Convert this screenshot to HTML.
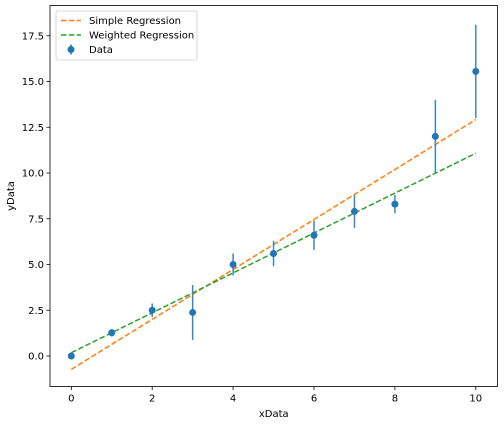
<!DOCTYPE html>
<html><head><meta charset="utf-8"><style>
body{margin:0;background:#fff}
svg{display:block;font-family:"DejaVu Sans","Liberation Sans",sans-serif}
</style></head><body>
<svg id="chart" width="504" height="425"></svg>
<script>
const xData=[0,1,2,3,4,5,6,7,8,9,10];
const yData=[0,1.27,2.5,2.38,5.0,5.6,6.6,7.9,8.3,12.0,15.55];
const yErr=[0.1,0.2,0.37,1.5,0.6,0.7,0.8,0.9,0.5,2.0,2.55];
const simpleFit=[-0.73,1.365];
const weightedFit=[0.18,1.09];
const xTicks=[0,2,4,6,8,10];
const yTicks=[0,2.5,5,7.5,10,12.5,15,17.5];
const L=50,R=497.5,T=5.5,B=386.5;
const X0=71.3,XS=40.45,Y0=356,YS=18.3;
const sx=v=>X0+v*XS, sy=v=>Y0-v*YS;
const svg=document.getElementById('chart');
const NS='http://www.w3.org/2000/svg';
function mk(tag,attrs,parent){const e=document.createElementNS(NS,tag);for(const k in attrs)e.setAttribute(k,attrs[k]);(parent||svg).appendChild(e);return e;}
const frame=mk('rect',{x:L,y:T,width:R-L,height:B-T,fill:'none',stroke:'#000','stroke-width':0.8});


xTicks.forEach(t=>{
  const g=mk('g',{});
  
  
  mk('line',{x1:sx(t),x2:sx(t),y1:B,y2:B+3.5,stroke:'#000','stroke-width':0.8},g);
  const tx=mk('text',{x:sx(t),y:B+15,'text-anchor':'middle','font-size':10,fill:'#000'},g);tx.textContent=t;
});
yTicks.forEach(t=>{
  const g=mk('g',{});
  
  
  mk('line',{x1:L-3.5,x2:L,y1:sy(t),y2:sy(t),stroke:'#000','stroke-width':0.8},g);
  const tx=mk('text',{x:L-6,y:sy(t)+3.5,'text-anchor':'end','font-size':10,fill:'#000'},g);tx.textContent=t.toFixed(1);
});
const xl=mk('text',{x:(L+R)/2,y:417,'text-anchor':'middle','font-size':10});xl.textContent='xData';


const yl=mk('text',{x:14,y:(T+B)/2,'text-anchor':'middle','font-size':10,transform:`rotate(-90 14 ${(T+B)/2})`});yl.textContent='yData';


function fitLine(f,color,name){
  const l=mk('line',{x1:sx(xData[0]),y1:sy(f[0]+f[1]*xData[0]),x2:sx(xData[xData.length-1]),y2:sy(f[0]+f[1]*xData[xData.length-1]),stroke:color,'stroke-width':1.5,'stroke-dasharray':'5.5,2.4'});
  
  
}
fitLine(simpleFit,'#ff7f0e','simple-regression-line');
fitLine(weightedFit,'#2ca02c','weighted-regression-line');
xData.forEach((x,i)=>{
  const g=mk('g',{});
  
  
  mk('line',{x1:sx(x),x2:sx(x),y1:sy(yData[i]-yErr[i]),y2:sy(yData[i]+yErr[i]),stroke:'#3b88c0','stroke-width':1.5},g);
  mk('circle',{cx:sx(x),cy:sy(yData[i]),r:3.5,fill:'#1f77b4'},g);
});
const lg=mk('g',{});


mk('rect',{x:56,y:11,width:141,height:49,rx:2,fill:'#fff','fill-opacity':0.8,stroke:'#ccc','stroke-width':0.8},lg);
const items=[['Simple Regression','#ff7f0e','line'],['Weighted Regression','#2ca02c','line'],['Data','#1f77b4','pt']];
items.forEach((it,i)=>{
  const y=20.5+i*14.5;
  const e=mk('g',{},lg);
  
  
  if(it[2]==='line')mk('line',{x1:61,x2:81,y1:y,y2:y,stroke:it[1],'stroke-width':1.5,'stroke-dasharray':'5.5,2.4'},e);
  else{mk('line',{x1:71,x2:71,y1:y-5,y2:y+5,stroke:it[1],'stroke-width':1.5},e);mk('circle',{cx:71,cy:y,r:3.5,fill:it[1]},e);}
  const t=mk('text',{x:89,y:y+3.5,'font-size':10},e);t.textContent=it[0];
});
</script>
</body></html>
